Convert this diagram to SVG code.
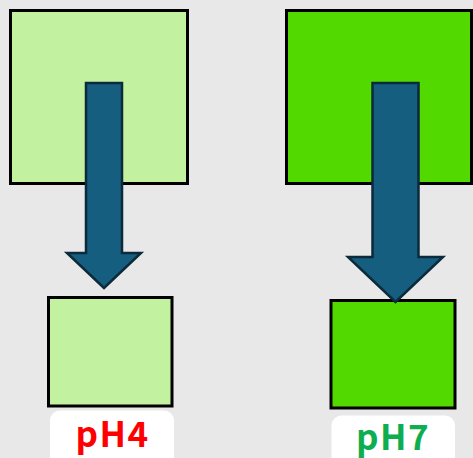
<svg xmlns="http://www.w3.org/2000/svg" width="473" height="458" viewBox="0 0 473 458">
<style>
.box{stroke:#000;stroke-width:3}
.light{fill:#c2f1a0}
.bright{fill:#52d900}
.arrow{fill:#165e80;stroke:#0b2a3b;stroke-width:2.5;stroke-linejoin:miter}
.tag{fill:#fff}
.lbl{font-family:"Noto Sans CJK JP","Noto Sans",sans-serif;font-weight:bold;font-size:35px;letter-spacing:1.5px;text-anchor:middle}
</style>
<rect width="473" height="458" fill="#e8e8e8"/>
<g id="ph4-top"><rect class="box light" x="10.5" y="10.5" width="177" height="173"/></g>
<g id="ph7-top"><rect class="box bright" x="286.5" y="10.5" width="185" height="173"/></g>
<g id="ph4-bottom"><rect class="box light" x="48.5" y="297.5" width="123.5" height="108.5"/></g>
<g id="ph7-bottom"><rect class="box bright" x="331" y="300.5" width="124" height="107.5"/></g>
<g id="connectors">
<polygon class="arrow" points="86,83 122,83 122,253 141,253 104,288 67,253 86,253"/>
<polygon class="arrow" points="372.5,83 418.5,83 418.5,257 443,257 395.5,302 348,257 372.5,257"/>
</g>
<g id="label-ph4">
<rect class="tag" x="50" y="410.5" width="124" height="60" rx="10"/>
<text class="lbl" x="112.5" y="447" fill="#ff0000">pH4</text>
</g>
<g id="label-ph7">
<rect class="tag" x="331.5" y="415.5" width="123.5" height="60" rx="10"/>
<text class="lbl" x="393" y="449.5" fill="#0eae50">pH7</text>
</g>
</svg>
